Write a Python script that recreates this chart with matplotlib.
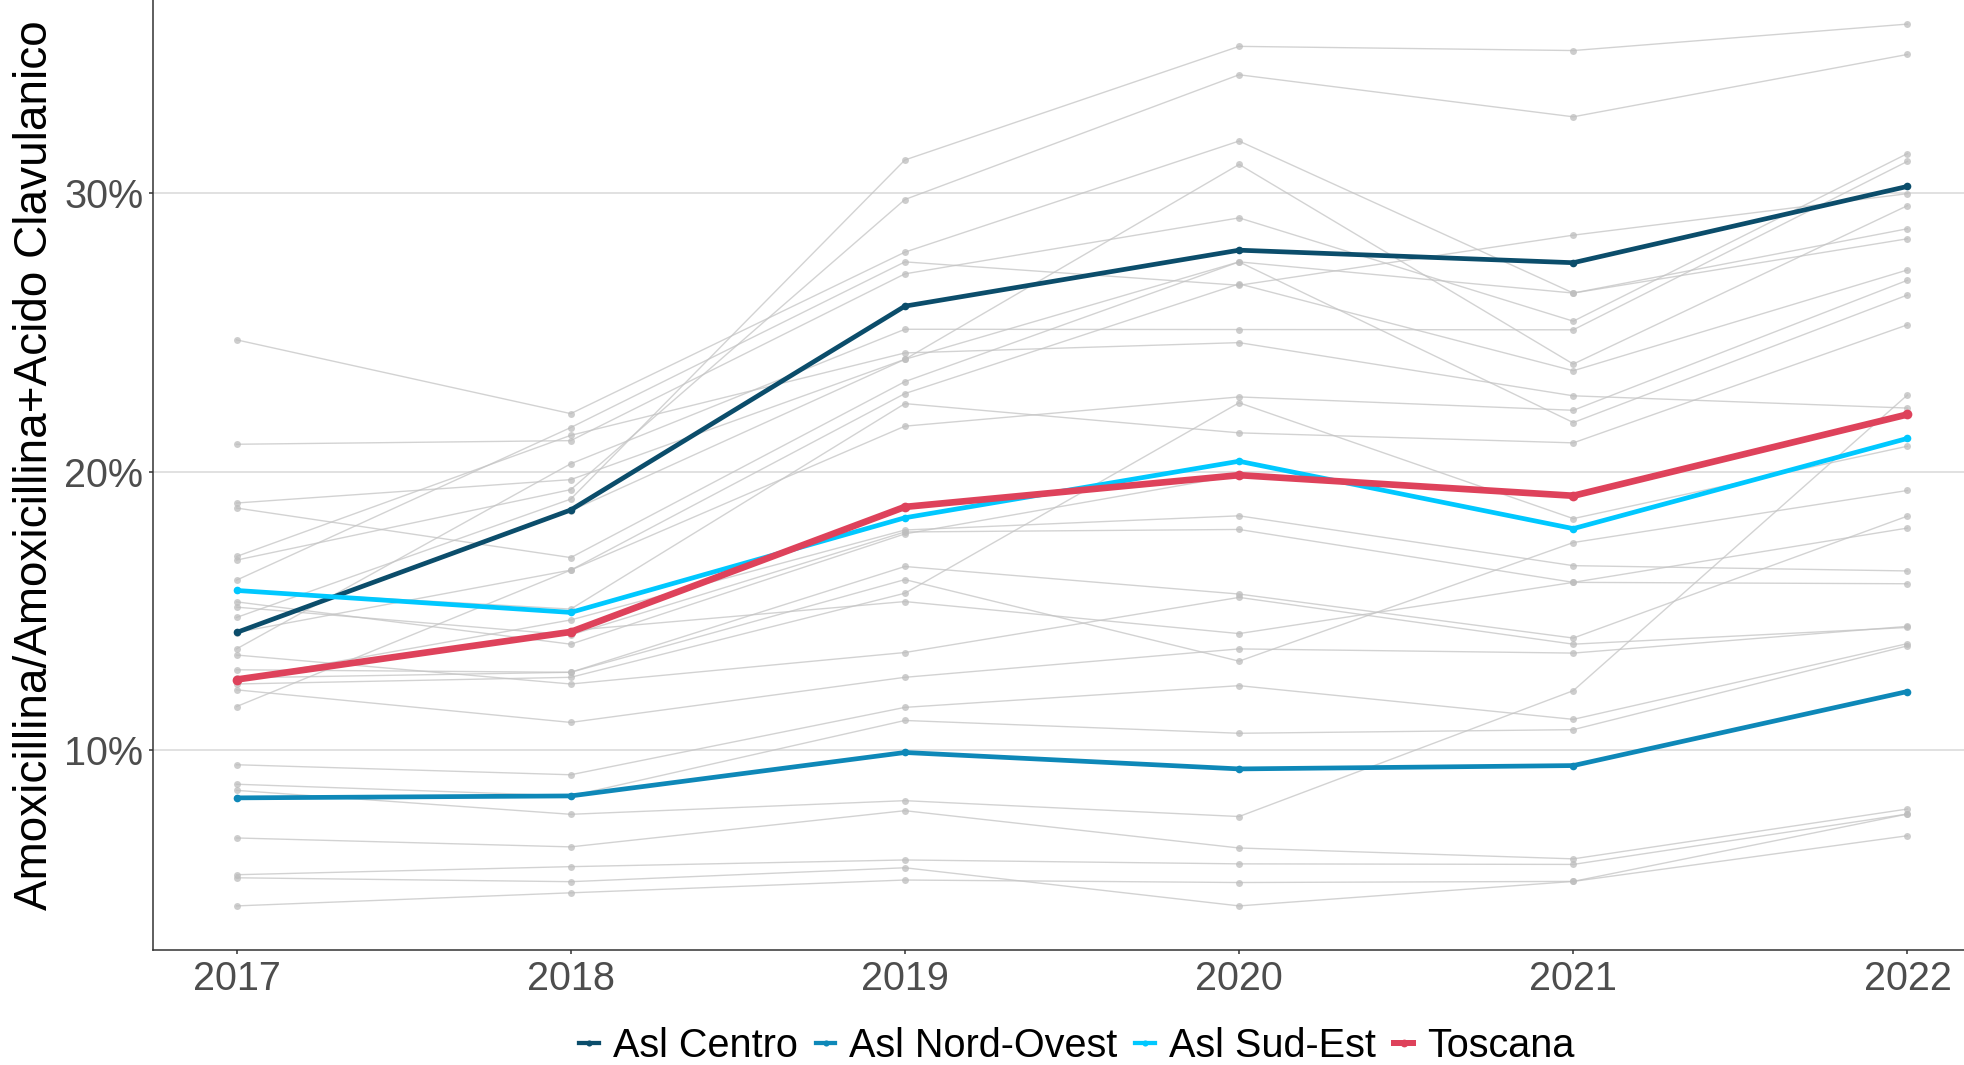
import numpy as np
import matplotlib
matplotlib.use("Agg")
import matplotlib.pyplot as plt
from matplotlib.lines import Line2D

plt.rcParams['font.family'] = ['Liberation Sans', 'DejaVu Sans']

years = [2017, 2018, 2019, 2020, 2021, 2022]

# highlighted series (% amoxicillina on amoxicillina + acido clavulanico)
asl_centro = [14.23, 18.63, 25.95, 27.96, 27.51, 30.25]
asl_nord_ovest = [8.29, 8.36, 9.92, 9.33, 9.45, 12.11]
asl_sud_est = [15.74, 14.95, 18.35, 20.38, 17.96, 21.20]
toscana = [12.54, 14.25, 18.74, 19.88, 19.14, 22.06]

# background lines, one per zona
zone_values = [
    [24.74, 22.09, 27.89, 31.88, 26.42, 28.73],
    [20.99, 21.12, 27.11, 29.12, 25.41, 31.43],
    [18.88, 19.72, 24.04, 31.04, 23.87, 29.56],
    [18.70, 16.92, 23.24, 27.54, 21.77, 26.35],
    [16.96, 21.31, 24.27, 24.64, 22.73, 22.29],
    [16.83, 19.36, 29.78, 34.26, 32.75, 34.99],
    [16.11, 21.59, 27.54, 26.70, 28.50, 29.99],
    [15.33, 13.81, 17.77, 19.88, 19.14, 22.06],
    [15.14, 14.14, 17.84, 17.93, 16.03, 15.98],
    [14.77, 19.02, 31.20, 35.28, 35.13, 36.08],
    [13.64, 20.29, 25.12, 25.11, 25.10, 31.15],
    [13.42, 12.38, 13.51, 15.49, 13.81, 14.41],
    [12.89, 12.80, 16.60, 15.61, 14.03, 18.41],
    [12.38, 12.62, 15.64, 22.48, 18.32, 20.92],
    [12.17, 11.00, 12.62, 13.64, 13.49, 14.45],
    [11.57, 16.47, 22.81, 26.75, 23.63, 27.25],
    [9.48, 9.12, 11.54, 12.32, 11.11, 13.83],
    [8.78, 8.36, 11.07, 10.61, 10.74, 13.75],
    [8.56, 7.70, 8.19, 7.62, 12.14, 22.76],
    [6.85, 6.53, 7.83, 6.49, 6.10, 7.89],
    [5.53, 5.82, 6.06, 5.92, 5.90, 7.71],
    [5.42, 5.28, 5.78, 4.41, 5.29, 7.71],
    [4.41, 4.88, 5.34, 5.25, 5.29, 6.93],
    [15.74, 15.07, 22.45, 21.40, 21.04, 25.28],
    [14.23, 16.47, 21.64, 22.69, 22.21, 26.88],
    [12.54, 14.68, 17.91, 18.42, 16.63, 16.44],
    [12.60, 12.80, 16.13, 13.20, 17.46, 19.33],
    [14.20, 18.60, 24.04, 27.54, 26.42, 28.37],
    [12.50, 14.30, 15.34, 14.19, 16.03, 17.98],
]

series = [("Asl Centro", asl_centro, "#0B4D6B", 3.4, 5.5),
          ("Asl Nord-Ovest", asl_nord_ovest, "#0E88B8", 3.4, 5.5),
          ("Asl Sud-Est", asl_sud_est, "#00C8FF", 3.4, 5.5),
          ("Toscana", toscana, "#DE425B", 4.8, 7)]

W, H = 1964, 1065
fig = plt.figure(figsize=(W / 100, H / 100), dpi=100)

# panel is a bit larger than the picture (cropped on top and right)
x0, x1 = 153, 1991
y_bot, y_top = 950, -20
ax = fig.add_axes([x0 / W, (H - y_bot) / H, (x1 - x0) / W, (y_bot - y_top) / H])

for row in zone_values:
    ax.plot(years, row, color="#C4C4C4", lw=1.0, alpha=0.75, zorder=2,
            marker="o", ms=5, mfc="#BDBDBD", mec="none")

for name, vals, col, lw, ms in series:
    ax.plot(years, vals, color=col, lw=lw, marker="o", ms=ms, mec="none",
            zorder=3, solid_capstyle="round")

allv = np.concatenate([np.ravel(zone_values)] + [np.array(s[1]) for s in series])
lo, hi = allv.min(), allv.max()
pad = 0.05 * (hi - lo)
ax.set_ylim(lo - pad, hi + pad)
ax.set_xlim(years[0] - 0.25, years[-1] + 0.25)

ax.set_yticks([10, 20, 30])
ax.set_yticklabels(["10%", "20%", "30%"])
ax.set_xticks(years)
ax.set_xticklabels([str(y) for y in years])

ax.grid(axis="y", color="#DCDCDC", lw=1.2, zorder=0)
ax.set_axisbelow(True)
for side in ["top", "right"]:
    ax.spines[side].set_visible(False)
for side in ["left", "bottom"]:
    ax.spines[side].set_color("#333333")
    ax.spines[side].set_linewidth(1.1)

ax.tick_params(axis="both", direction="out", length=3, width=1.1, color="#333333",
               labelsize=28.5, labelcolor="#4D4D4D")
ax.tick_params(axis="y", pad=4)
ax.tick_params(axis="x", pad=4)

fig.text(35 / W, 1 - 465 / H, "Amoxicillina/Amoxicillina+Acido Clavulanico",
         rotation=90, ha="center", va="center", fontsize=33, color="black")

handles = [Line2D([0], [0], color=col, lw=lw * 0.9, marker="o", ms=ms * 0.8, mec="none")
           for name, vals, col, lw, ms in series]
labels = [s[0] for s in series]
fig.legend(handles, labels, loc="center", bbox_to_anchor=(1077 / W, 1 - 1046 / H),
           ncol=4, frameon=False, fontsize=28.5, handlelength=0.5,
           handletextpad=0.35, columnspacing=0.45, borderpad=0)

fig.savefig("out.png", dpi=100)
plt.close(fig)
